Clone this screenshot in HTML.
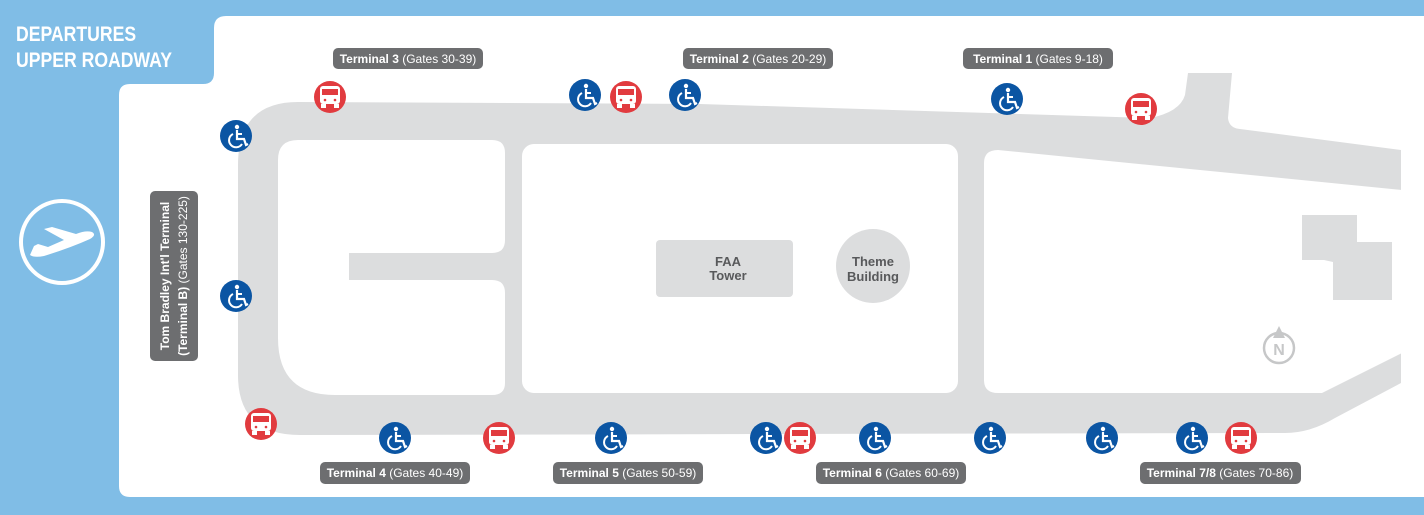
<!DOCTYPE html>
<html><head><meta charset="utf-8"><style>
html,body{margin:0;padding:0;width:1424px;height:515px;overflow:hidden;background:#80bde6}
svg{display:block}
</style></head><body>
<svg width="1424" height="515" viewBox="0 0 1424 515" xmlns="http://www.w3.org/2000/svg">
<defs>
<g id="wc"><circle r="16" fill="#0b55a3"/><circle cx="1" cy="-9" r="2.2" fill="#fff"/><path d="M1 -6 L1 3 L8 3 L10 9 L12 8" stroke="#fff" stroke-width="2.2" fill="none"/><path d="M-3 -2 A7 7 0 1 0 6 8" stroke="#fff" stroke-width="2" fill="none"/><path d="M1 -2 L6 -2" stroke="#fff" stroke-width="2"/></g>
<g id="bus"><circle r="16" fill="#e13b3f"/><rect x="-10" y="-11" width="20" height="18" rx="3" fill="#fff"/><rect x="-8" y="-8" width="16" height="6" fill="#e13b3f"/><circle cx="-5" cy="3" r="1.3" fill="#e13b3f"/><circle cx="5" cy="3" r="1.3" fill="#e13b3f"/><rect x="-9" y="7" width="5" height="4" fill="#fff"/><rect x="4" y="7" width="5" height="4" fill="#fff"/></g>
</defs>
<path d="M226 16 H1424 V497 H130 Q119 497 119 486 V95 Q119 84 130 84 H203 Q214 84 214 73 V28 Q214 16 226 16 Z" fill="#fff"/>
<g transform="translate(16 0) scale(0.84 1)" font-family="Liberation Sans,sans-serif" style="font-weight:bold" font-size="21" fill="#fff">
<text x="0" y="41">DEPARTURES</text>
<text x="0" y="67">UPPER ROADWAY</text>
</g>
<circle cx="62" cy="242" r="41" fill="none" stroke="#fff" stroke-width="4"/>
<path d="M30 255 Q34 258 44 256 Q70 248 90 239 Q97 235 92 232 Q86 230 76 234 L52 227 L44 229 L64 240 L48 247 L38 244 L34 246 Z" fill="#fff"/>
<path d="M298 102 L700 104 L1150 118 Q1180 112 1185 95 L1188 73 L1232 73 L1228 118 Q1229 128 1240 129 L1401 150 L1401 383 L1335 418 Q1310 433 1285 433 L300 435 Q238 435 238 375 L238 165 Q238 102 298 102 Z" fill="#dcddde"/>
<path d="M298 140 H492 Q505 140 505 153 V240 Q505 253 492 253 H349 V280 H492 Q505 280 505 293 V383 Q505 395 492 395 H335 Q278 395 278 338 V160 Q278 140 298 140 Z" fill="#fff"/>
<rect x="522" y="144" width="436" height="249" rx="12" fill="#fff"/>
<path d="M998 150 L1402 190 V353 L1322 393 H998 Q984 393 984 380 V163 Q984 150 998 150 Z" fill="#fff"/>
<path d="M1302 215 H1357 V242 H1392 V300 H1333 V262 L1324 260 H1302 Z" fill="#dcddde"/>
<rect x="656" y="240" width="137" height="57" rx="4" fill="#dcddde"/>
<g font-family="Liberation Sans,sans-serif" style="font-weight:bold" font-size="13" fill="#58595b" text-anchor="middle">
<text x="728" y="266">FAA</text>
<text x="728" y="280">Tower</text>
<circle cx="873" cy="266" r="37" fill="#dcddde"/>
<text x="873" y="266">Theme</text>
<text x="873" y="281">Building</text>
</g>
<circle cx="1279" cy="348" r="15" fill="none" stroke="#c6c7c8" stroke-width="2.5"/>
<path d="M1279 326 L1285 338 L1273 338 Z" fill="#c6c7c8"/>
<text x="1279" y="355" text-anchor="middle" font-family="Liberation Sans,sans-serif" style="font-weight:bold" font-size="16" fill="#c6c7c8">N</text>
<g font-family="Liberation Sans,sans-serif" font-size="12" fill="#fff">
<rect x="333" y="48" width="150" height="21" rx="5" fill="#6d6e70"/><text x="408" y="63" text-anchor="middle"><tspan style="font-weight:bold">Terminal 3</tspan> (Gates 30-39)</text>
<rect x="683" y="48" width="150" height="21" rx="5" fill="#6d6e70"/><text x="758" y="63" text-anchor="middle"><tspan style="font-weight:bold">Terminal 2</tspan> (Gates 20-29)</text>
<rect x="963" y="48" width="150" height="21" rx="5" fill="#6d6e70"/><text x="1038" y="63" text-anchor="middle"><tspan style="font-weight:bold">Terminal 1</tspan> (Gates 9-18)</text>
<rect x="320" y="462" width="150" height="22" rx="5" fill="#6d6e70"/><text x="395" y="477" text-anchor="middle"><tspan style="font-weight:bold">Terminal 4</tspan> (Gates 40-49)</text>
<rect x="553" y="462" width="150" height="22" rx="5" fill="#6d6e70"/><text x="628" y="477" text-anchor="middle"><tspan style="font-weight:bold">Terminal 5</tspan> (Gates 50-59)</text>
<rect x="816" y="462" width="150" height="22" rx="5" fill="#6d6e70"/><text x="891" y="477" text-anchor="middle"><tspan style="font-weight:bold">Terminal 6</tspan> (Gates 60-69)</text>
<rect x="1140" y="462" width="161" height="22" rx="5" fill="#6d6e70"/><text x="1220" y="477" text-anchor="middle"><tspan style="font-weight:bold">Terminal 7/8</tspan> (Gates 70-86)</text>
<rect x="150" y="191" width="48" height="170" rx="5" fill="#6d6e70"/>
<text transform="translate(169 276) rotate(-90)" text-anchor="middle" style="font-weight:bold">Tom Bradley Int'l Terminal</text>
<text transform="translate(187 276) rotate(-90)" text-anchor="middle"><tspan style="font-weight:bold">(Terminal B)</tspan> (Gates 130-225)</text>
</g>
<use href="#bus" x="330" y="97"/><use href="#wc" x="236" y="136"/><use href="#wc" x="585" y="95"/><use href="#bus" x="626" y="97"/><use href="#wc" x="685" y="95"/><use href="#wc" x="1007" y="99"/><use href="#bus" x="1141" y="109"/><use href="#wc" x="236" y="296"/><use href="#bus" x="261" y="424"/><use href="#wc" x="395" y="438"/><use href="#bus" x="499" y="438"/><use href="#wc" x="611" y="438"/><use href="#wc" x="766" y="438"/><use href="#bus" x="800" y="438"/><use href="#wc" x="875" y="438"/><use href="#wc" x="990" y="438"/><use href="#wc" x="1102" y="438"/><use href="#wc" x="1192" y="438"/><use href="#bus" x="1241" y="438"/>
</svg>
</body></html>
